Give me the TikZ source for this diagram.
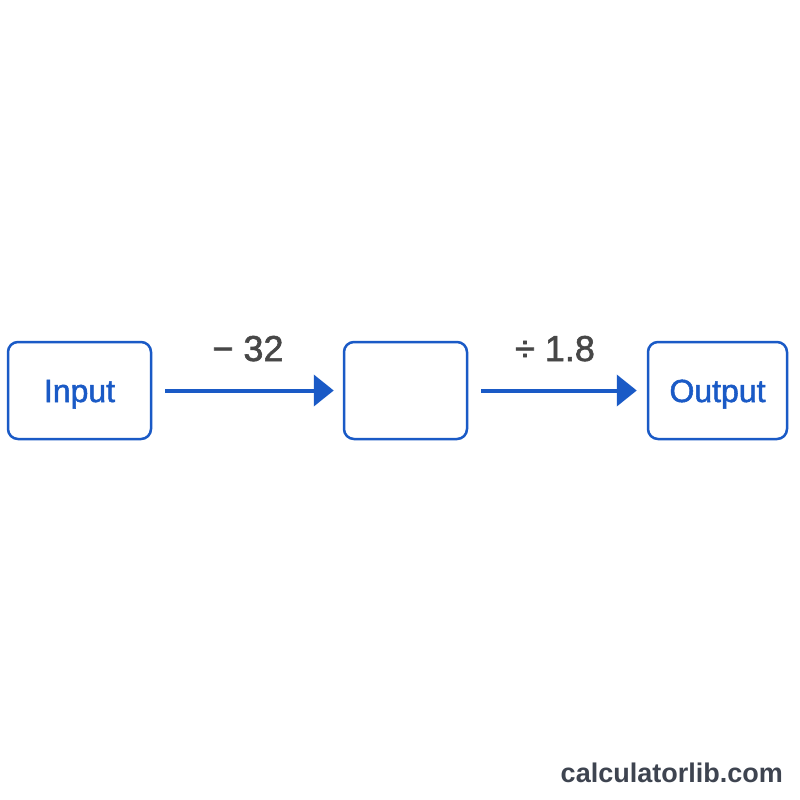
\documentclass[tikz,border=0pt]{standalone}
\usepackage{fontspec}
\setmainfont{Liberation Sans}
\newfontfamily\medfont[FakeBold=1.6]{Liberation Sans}
\usetikzlibrary{arrows.meta}
\definecolor{boxblue}{HTML}{1A5AC6}
\definecolor{labgray}{HTML}{474747}
\definecolor{footgray}{HTML}{3E4450}
\tikzset{
  stagebox/.style={draw=boxblue, line width=2.5pt, rounded corners=10pt, minimum height=97pt, inner sep=0pt, text height=23pt, text depth=0pt, text=boxblue, font=\medfont\fontsize{32}{36}\selectfont},
  flow/.style={draw=boxblue, line width=4pt, -{Triangle[length=20pt,width=31pt]}, shorten <=13pt},
  oplabel/.style={text=labgray, anchor=base, inner sep=0pt, font=\medfont\fontsize{36}{40}\selectfont}
}
\begin{document}
\begin{tikzpicture}[x=1pt,y=-1pt]
\useasboundingbox (0,0) rectangle (800,800);
\fill[white] (0,0) rectangle (800,800);
\node[stagebox, minimum width=143pt] (in) at (79.5,390.5) {Input};
\node[stagebox, minimum width=123pt] (mid) at (405.5,390.5) {};
\node[stagebox, minimum width=139pt] (out) at (717.5,390.5) {Output};
\draw[flow, shorten >=9pt] (in) -- (mid);
\draw[flow, shorten >=10pt] (mid) -- (out);
\node[oplabel] (l1) at (248,361) {− 32};
\node[oplabel] (l2) at (555,361) {÷ 1.8};
\node[anchor=base east, inner sep=0pt, text=footgray, font=\fontsize{27}{30}\selectfont\bfseries] (foot) at (783,782) {calculatorlib.com};
\end{tikzpicture}
\end{document}
